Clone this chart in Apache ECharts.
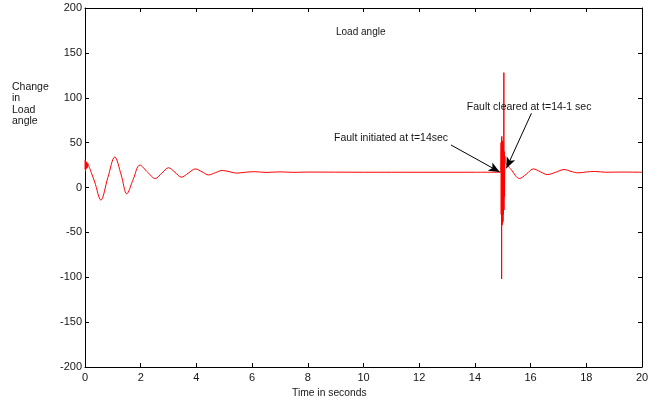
<!DOCTYPE html>
<html>
<head>
<meta charset="utf-8">
<script src="https://cdn.jsdelivr.net/npm/echarts@6/dist/echarts.min.js"></script>
<style>
  html, body { margin: 0; padding: 0; background: #fff; }
  #chart { width: 657px; height: 403px; }
</style>
</head>
<body>
<div id="chart"></div>
<script>
// Axis ticks
const xTicks = [0, 2, 4, 6, 8, 10, 12, 14, 16, 18, 20];
const yTicks = [-200, -150, -100, -50, 0, 50, 100, 150, 200];

// Start-up transient (first instants after t = 0)
const startTimes  = [0, 0.01, 0.02, 0.035, 0.05, 0.065, 0.08, 0.1, 0.12, 0.15];
const startValues = [20, 31, 18, 29, 21, 28, 22, 27, 24, 23];

// Pre-fault swing, decaying towards the steady-state angle
const preTimes  = [0.15, 0.35, 0.57, 0.82, 1.07, 1.3, 1.5, 1.73, 1.97, 2.25, 2.52, 2.76, 3.0, 3.23, 3.46,
                   3.71, 3.96, 4.2, 4.44, 4.68, 4.93, 5.2, 5.45, 5.75, 6.1, 6.5, 7.0, 7.5, 8, 9, 10, 11, 12, 13, 14, 14.93];
const preValues = [23, 6, -14, 11, 34, 14, -7, 9, 25, 17, 10, 16, 22, 17, 11.5,
                   16, 20.7, 17.5, 14, 16.5, 19, 17.5, 16, 17, 17.6, 16.8, 17.4, 16.9, 17.2, 17.1, 17, 17, 17, 17, 17, 17];

// Fault period: fast oscillation of the angle
const faultTimes  = [14.93, 14.94, 14.945, 14.955, 14.96, 14.965, 14.975, 14.985, 14.99, 15.0, 15.01, 15.02,
                     15.025, 15.035, 15.04, 15.045, 15.055, 15.065, 15.075, 15.09];
const faultValues = [17, 50, -30, 55, -102, 57, -42, 52, -40, 50, -38, 46,
                     -30, 42, 128, -25, 40, -10, 35, 28];

// Post-fault swing after clearing
const postTimes  = [15.09, 15.3, 15.6, 15.85, 16.1, 16.35, 16.6, 16.9, 17.2, 17.45, 17.7, 18.0, 18.3, 18.7, 19.2, 20];
const postValues = [28, 20, 10, 15, 20.7, 17.5, 14.4, 17, 20, 18, 16.3, 17.3, 17.9, 17, 17.2, 17];

// Annotation texts and their arrows (in time / angle units)
const noteTexts  = ['Fault initiated at t=14sec', 'Fault cleared at t=14-1 sec'];
const noteAnchor = [[8.94, 55.2], [13.71, 90]];
const arrowFrom  = [[13.14, 47.4], [16.03, 82.7]];
const arrowTo    = [[14.89, 17.3], [15.13, 21.4]];

const zip = (ts, vs) => ts.map((t, i) => [t, vs[i]]);
const FONT = 'Liberation Sans, Arial, sans-serif';
const TXT = '#151515';
const lineColor = '#ff0000';

const baseX = {
  type: 'value', min: 0, max: 20, interval: 2,
  axisLine: { show: true, onZero: false, lineStyle: { color: '#000', width: 1 } },
  axisTick: { show: true, inside: true, length: 4, lineStyle: { color: '#000' } },
  splitLine: { show: false }
};
const baseY = {
  type: 'value', min: -200, max: 200, interval: 50,
  axisLine: { show: true, onZero: false, lineStyle: { color: '#000', width: 1 } },
  axisTick: { show: true, inside: true, length: 4, lineStyle: { color: '#000' } },
  splitLine: { show: false }
};

const chart = echarts.init(document.getElementById('chart'), null, { renderer: 'canvas' });

chart.setOption({
  animation: false,
  backgroundColor: '#fff',
  textStyle: { fontFamily: FONT },
  title: {
    text: 'Load angle', left: 336, top: 27, padding: 0,
    textStyle: { fontFamily: FONT, fontSize: 10, fontWeight: 'normal', color: TXT }
  },
  grid: { left: 85, right: 15, top: 8, bottom: 36 },
  xAxis: [
    Object.assign({}, baseX, {
      position: 'bottom',
      axisLabel: {
        margin: 5, fontSize: 11, color: TXT, fontFamily: FONT,
        formatter: v => (xTicks.includes(v) ? String(v) : '')
      }
    }),
    Object.assign({}, baseX, { position: 'top', axisLabel: { show: false } })
  ],
  yAxis: [
    Object.assign({}, baseY, {
      position: 'left',
      axisLabel: {
        margin: 3, fontSize: 11, color: TXT, fontFamily: FONT,
        formatter: v => (yTicks.includes(v) ? String(v) : '')
      }
    }),
    Object.assign({}, baseY, { position: 'right', axisLabel: { show: false } })
  ],
  graphic: [
    {
      type: 'text', left: 12, top: 81,
      style: { text: 'Change\nin\nLoad\nangle', font: '10.5px ' + FONT, fill: TXT, lineHeight: 11.5 }
    },
    {
      type: 'text', left: 292, top: 388,
      style: { text: 'Time in seconds', font: '10.3px ' + FONT, fill: TXT }
    }
  ],
  series: [
    {
      type: 'line', name: 'start', data: zip(startTimes, startValues),
      showSymbol: false, lineStyle: { color: lineColor, width: 1 }
    },
    {
      type: 'line', name: 'pre', data: zip(preTimes, preValues),
      smooth: 0.35,
      showSymbol: false, lineStyle: { color: lineColor, width: 1 }
    },
    {
      type: 'line', name: 'fault', data: zip(faultTimes, faultValues),
      showSymbol: false, lineStyle: { color: lineColor, width: 1 }
    },
    {
      type: 'line', name: 'post', data: zip(postTimes, postValues),
      smooth: 0.35,
      showSymbol: false, lineStyle: { color: lineColor, width: 1 },
      markLine: {
        silent: true, animation: false,
        symbol: ['none', 'arrow'], symbolSize: [7, 11],
        lineStyle: { color: '#000', width: 1, type: 'solid' },
        label: { show: false },
        data: arrowFrom.map((p, i) => [{ coord: p }, { coord: arrowTo[i] }])
      },
      markPoint: {
        silent: true, animation: false,
        symbol: 'circle', symbolSize: 0,
        label: {
          show: true, position: 'right', distance: 0,
          fontSize: 10.5, color: TXT, fontFamily: FONT,
          formatter: p => p.name
        },
        data: noteAnchor.map((p, i) => ({ name: noteTexts[i], coord: p }))
      }
    }
  ]
});
</script>
</body>
</html>
